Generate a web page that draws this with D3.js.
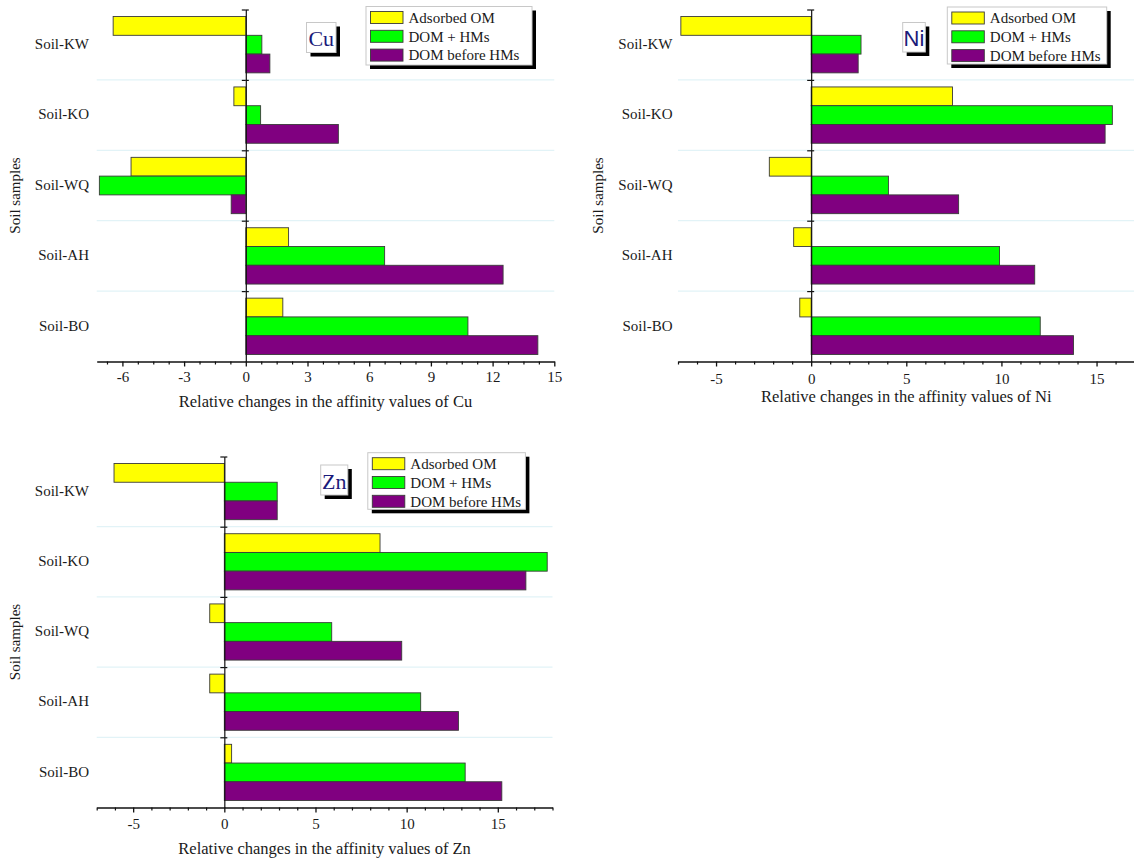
<!DOCTYPE html>
<html>
<head>
<meta charset="utf-8">
<script src="https://cdn.jsdelivr.net/npm/d3@7"></script>
<style>
  html, body { margin: 0; padding: 0; background: #fff; }
  svg { display: block; }
  text { font-family: "Liberation Serif", "Times New Roman", serif; fill: #1a1a1a; }
  text.tag-sans { font-family: "Liberation Sans", Arial, sans-serif; }
</style>
</head>
<body>
<svg id="chart" width="1134" height="858"></svg>
<script>
// Soil samples, listed top to bottom
const soils = ["Soil-KW", "Soil-KO", "Soil-WQ", "Soil-AH", "Soil-BO"];
const seriesNames = ["Adsorbed OM", "DOM + HMs", "DOM before HMs"];
const seriesColors = ["#ffff00", "#00ff00", "#800080"];

// Cu
const cuAdsorbed = [-6.45, -0.58, -5.58, 2.08, 1.8];
const cuDomHms = [0.78, 0.72, -7.12, 6.75, 10.8];
const cuDomBefore = [1.17, 4.5, -0.71, 12.51, 14.2];
const cuTicks = [-6, -3, 0, 3, 6, 9, 12, 15];

// Ni
const niAdsorbed = [-6.85, 7.43, -2.2, -0.92, -0.6];
const niDomHms = [2.62, 15.83, 4.06, 9.9, 12.04];
const niDomBefore = [2.47, 15.45, 7.75, 11.75, 13.79];
const niTicks = [-5, 0, 5, 10, 15];

// Zn
const znAdsorbed = [-6.05, 8.54, -0.8, -0.8, 0.4];
const znDomHms = [2.9, 17.71, 5.89, 10.77, 13.21];
const znDomBefore = [2.9, 16.54, 9.73, 12.84, 15.22];
const znTicks = [-5, 0, 5, 10, 15];

const svg = d3.select("#chart");

const panels = [
  {
    metal: "Cu", tagClass: "tag-serif",
    series: [cuAdsorbed, cuDomHms, cuDomBefore], ticks: cuTicks, minorStep: 0.75,
    domain: [-7.25, 15], xRange: [96.7, 554.3], yRange: [9.5, 361.5],
    labelRight: 89, yTitleX: 15,
    tickLabelY: 377, titleY: 407,
    tag: { x: 306.5, y: 22.5, w: 29.5, h: 30 },
    legend: { x: 366, y: 6.5, w: 166, h: 58.5 }
  },
  {
    metal: "Ni", tagClass: "tag-sans",
    series: [niAdsorbed, niDomHms, niDomBefore], ticks: niTicks, minorStep: 1,
    domain: [-7, 17], xRange: [678, 1134.6], yRange: [9.5, 361.5],
    labelRight: 672.5, yTitleX: 598,
    tickLabelY: 379, titleY: 402,
    tag: { x: 902.7, y: 22.5, w: 22.6, h: 29.5 },
    legend: { x: 947.3, y: 7, w: 159.4, h: 57 }
  },
  {
    metal: "Zn", tagClass: "tag-serif",
    series: [znAdsorbed, znDomHms, znDomBefore], ticks: znTicks, minorStep: 1,
    domain: [-7, 18], xRange: [96.7, 552.5], yRange: [456.5, 807.5],
    labelRight: 89, yTitleX: 15,
    tickLabelY: 824, titleY: 854,
    tag: { x: 320.7, y: 465, w: 27.1, h: 30 },
    legend: { x: 367.8, y: 452.7, w: 157.6, h: 56.6 }
  }
];

panels.forEach(p => {
  const g = svg.append("g").attr("class", "panel-" + p.metal);

  const x = d3.scaleLinear().domain(p.domain).range(p.xRange);
  const y = d3.scaleBand().domain(soils).range(p.yRange).paddingInner(0).paddingOuter(0);
  const ySub = d3.scaleBand().domain(d3.range(seriesNames.length))
    .range([0, y.bandwidth()]).paddingInner(0).paddingOuter(0.375);

  // light separators between soil groups
  g.append("g").selectAll("line")
    .data(soils.slice(1))
    .join("line")
    .attr("x1", p.xRange[0]).attr("x2", p.xRange[1])
    .attr("y1", d => y(d)).attr("y2", d => y(d))
    .attr("stroke", "#e2f3f7").attr("stroke-width", 1.2);

  // bars
  p.series.forEach((vals, si) => {
    g.append("g").selectAll("rect")
      .data(vals.map((v, i) => ({ soil: soils[i], v })))
      .join("rect")
      .attr("x", d => x(Math.min(0, d.v)))
      .attr("width", d => Math.abs(x(d.v) - x(0)))
      .attr("y", d => y(d.soil) + ySub(si))
      .attr("height", ySub.bandwidth())
      .attr("fill", seriesColors[si])
      .attr("stroke", "#3a3a3a").attr("stroke-width", 0.9);
  });

  // x axis: minor ticks, then major ticks with labels
  const [d0, d1] = p.domain;
  const minorVals = d3.range(Math.ceil(d0 / p.minorStep) * p.minorStep, d1 + 1e-9, p.minorStep)
    .filter(v => !p.ticks.some(t => Math.abs(t - v) < 1e-9));
  const axisY = p.yRange[1];
  g.append("g").attr("transform", `translate(0,${axisY})`)
    .call(d3.axisBottom(x).tickValues(minorVals).tickSize(3).tickFormat("").tickSizeOuter(0))
    .call(a => a.select(".domain").attr("stroke", "#111").attr("stroke-width", 1.3))
    .call(a => a.selectAll(".tick line").attr("stroke", "#111").attr("stroke-width", 1.2));
  const major = g.append("g").attr("transform", `translate(0,${axisY})`)
    .call(d3.axisBottom(x).tickValues(p.ticks).tickSize(5).tickSizeOuter(0).tickFormat(d => String(d)));
  major.attr("font-family", "'Liberation Serif', serif").attr("font-size", 15);
  major.select(".domain").remove();
  major.selectAll(".tick line").attr("stroke", "#111").attr("stroke-width", 1.3);
  major.selectAll(".tick text")
    .attr("y", p.tickLabelY - axisY).attr("dy", "0.35em")
    .style("font-family", "'Liberation Serif', serif").style("font-size", "15px").attr("fill", "#1a1a1a");

  // x axis title
  g.append("text")
    .attr("x", (p.xRange[0] + p.xRange[1]) / 2).attr("y", p.titleY)
    .attr("text-anchor", "middle").style("font-size", "16.5px")
    .text("Relative changes in the affinity values of " + p.metal);

  // zero line with ticks at group boundaries
  const bounds = d3.scaleLinear().domain([0, soils.length]).range(p.yRange);
  const zg = g.append("g").attr("transform", `translate(${x(0)},0)`);
  zg.call(d3.axisLeft(bounds).tickValues(d3.range(soils.length)).tickSize(4).tickFormat("").tickSizeOuter(0))
    .call(a => a.select(".domain").attr("stroke", "#111").attr("stroke-width", 1.2))
    .call(a => a.selectAll(".tick line").attr("stroke", "#111").attr("stroke-width", 1.2));
  zg.append("g")
    .call(d3.axisRight(bounds).tickValues(d3.range(soils.length)).tickSize(3).tickFormat("").tickSizeOuter(0))
    .call(a => a.select(".domain").remove())
    .call(a => a.selectAll(".tick line").attr("stroke", "#111").attr("stroke-width", 1.2));

  // category labels
  g.append("g").selectAll("text")
    .data(soils)
    .join("text")
    .attr("x", p.labelRight)
    .attr("y", d => y(d) + y.bandwidth() / 2 - 1)
    .attr("dy", "0.35em")
    .attr("text-anchor", "end")
    .style("font-size", "15px")
    .text(d => d);

  // y axis title
  const yMid = (p.yRange[0] + p.yRange[1]) / 2 + 10;
  g.append("text")
    .attr("transform", `translate(${p.yTitleX},${yMid}) rotate(-90)`)
    .attr("text-anchor", "middle").attr("dy", "0.35em")
    .style("font-size", "15px")
    .text("Soil samples");

  // metal tag with drop shadow
  const t = p.tag;
  g.append("rect").attr("x", t.x + 4).attr("y", t.y + 4).attr("width", t.w).attr("height", t.h).attr("fill", "#000");
  g.append("rect").attr("x", t.x).attr("y", t.y).attr("width", t.w).attr("height", t.h)
    .attr("fill", "#fff").attr("stroke", "#c8c8c8").attr("stroke-width", 1);
  g.append("text")
    .attr("class", p.tagClass)
    .attr("x", t.x + t.w / 2).attr("y", t.y + t.h / 2 + 1).attr("dy", "0.35em")
    .attr("text-anchor", "middle")
    .style("font-size", "22px")
    .style("fill", "#1b1b7a")
    .text(p.metal);

  // legend with drop shadow
  const L = p.legend;
  const lg = g.append("g");
  lg.append("rect").attr("x", L.x + 4).attr("y", L.y + 4).attr("width", L.w).attr("height", L.h).attr("fill", "#000");
  lg.append("rect").attr("x", L.x).attr("y", L.y).attr("width", L.w).attr("height", L.h)
    .attr("fill", "#fff").attr("stroke", "#c8c8c8").attr("stroke-width", 1);
  const rows = lg.selectAll("g.row").data(seriesNames).join("g").attr("class", "row")
    .attr("transform", (d, i) => `translate(${L.x + 4.5},${L.y + 5 + i * 18.8})`);
  rows.append("rect").attr("width", 32.5).attr("height", 12)
    .attr("fill", (d, i) => seriesColors[i]).attr("stroke", "#3a3a3a").attr("stroke-width", 0.9);
  rows.append("text").attr("x", 38).attr("y", 6).attr("dy", "0.35em")
    .style("font-size", "15px").text(d => d);
});
</script>
</body>
</html>
